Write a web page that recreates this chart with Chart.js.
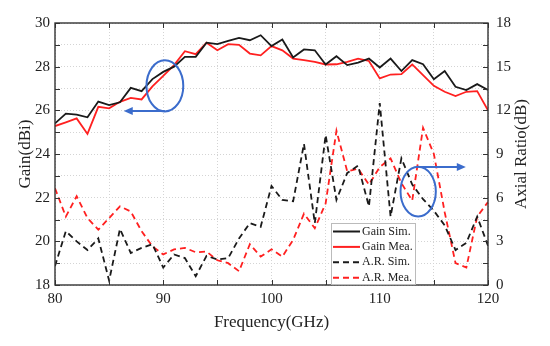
<!DOCTYPE html>
<html>
<head>
<meta charset="utf-8">
<script src="https://cdn.jsdelivr.net/npm/chart.js@4.4.0/dist/chart.umd.min.js"></script>
<style>
  html, body { margin: 0; padding: 0; background: #fff; }
</style>
</head>
<body>
<canvas id="myChart" width="550" height="346"></canvas>
<script>
// Frequency points (GHz)
let freq = [80, 81, 82, 83, 84, 85, 86, 87, 88, 89, 90, 91, 92, 93, 94, 95, 96, 97, 98, 99, 100,
            101, 102, 103, 104, 105, 106, 107, 108, 109, 110, 111, 112, 113, 114, 115, 116, 117, 118, 119, 120];

// Gain (dBi), left axis
let gainSim = [25.4, 25.85, 25.8, 25.68, 26.4, 26.24, 26.37, 27.03, 26.88, 27.43, 27.76,
               28.0, 28.45, 28.45, 29.1, 29.03, 29.18, 29.32, 29.21, 29.44, 28.94,
               29.24, 28.42, 28.79, 28.75, 28.1, 28.48, 28.07, 28.19, 28.37, 27.96,
               28.37, 27.8, 28.3, 28.11, 27.42, 27.8, 27.08, 26.93, 27.2, 26.93];
let gainMea = [25.28, 25.45, 25.63, 24.92, 26.16, 26.09, 26.39, 26.57, 26.5, 27.1, 27.58,
               28.07, 28.71, 28.57, 29.1, 28.75, 29.03, 29.0, 28.6, 28.52, 28.94,
               28.75, 28.37, 28.3, 28.22, 28.1, 28.11, 28.22, 28.37, 28.26, 27.46,
               27.64, 27.66, 28.1, 27.61, 27.12, 26.85, 26.65, 26.85, 26.88, 26.0];

// Axial ratio (dB), right axis
let arSim = [1.3, 3.7, 3.0, 2.4, 3.2, 0.3, 3.85, 2.2, 2.55, 2.8, 1.2,
             2.1, 1.85, 0.6, 2.0, 1.75, 1.85, 3.2, 4.25, 4.0, 6.8,
             5.85, 5.75, 9.7, 4.25, 10.3, 5.85, 7.7, 8.2, 5.4, 12.5,
             4.7, 8.7, 6.9, 5.9, 5.1, 4.1, 2.4, 2.9, 4.7, 2.7];
let arMea = [6.65, 4.7, 6.1, 4.6, 3.8, 4.6, 5.4, 5.05, 3.7, 2.65, 2.1,
             2.45, 2.55, 2.25, 2.3, 1.7, 1.5, 0.95, 2.8, 1.95, 2.45,
             1.95, 3.1, 4.9, 3.9, 5.6, 10.6, 7.8, 8.0, 6.9, 8.1,
             8.7, 7.0, 5.8, 10.8, 9.0, 5.0, 1.5, 1.2, 4.7, 5.7];

// Tick ranges
let xTicks = { min: 80, max: 120, step: 5, labelEvery: 10 };
let gainTicks = { min: 18, max: 30, step: 1, labelEvery: 2 };
let arTicks = { min: 0, max: 18, step: 1.5, labelEvery: 3 };

const SERIF = "'Liberation Serif', 'Times New Roman', serif";
const TEXT = '#222';
const BLUE = '#3b6ccc';

function pairs(xs, ys) {
    return xs.map((x, i) => ({ x: x, y: ys[i] }));
}

// legend entries drawn inside the plot
let legendItems = [
    { text: 'Gain Sim.', color: '#1a1a1a', dash: [] },
    { text: 'Gain Mea.', color: '#ff2020', dash: [] },
    { text: 'A.R. Sim.', color: '#1a1a1a', dash: [6, 4] },
    { text: 'A.R. Mea.', color: '#ff2020', dash: [6, 4] }
];

// blue ellipses + arrows, in data units
let marks = [
    { axis: 'y', cx: 90.15, cy: 27.12, rx: 1.7, ry: 1.17, ay: 25.97, ax: 86.35 },
    { axis: 'y2', cx: 113.55, cy: 6.42, rx: 1.63, ry: 1.71, ay: 8.1, ax: 117.95 }
];

const decorations = {
    id: 'decorations',
    afterDatasetsDraw(chart) {
        const { ctx, chartArea: a, scales } = chart;
        ctx.save();

        // inward tick marks
        ctx.strokeStyle = '#333';
        ctx.lineWidth = 1;
        ctx.setLineDash([]);
        ctx.beginPath();
        scales.x.ticks.forEach(t => {
            const px = Math.round(scales.x.getPixelForValue(t.value)) + 0.5;
            ctx.moveTo(px, a.bottom); ctx.lineTo(px, a.bottom - 5);
            ctx.moveTo(px, a.top); ctx.lineTo(px, a.top + 5);
        });
        scales.y.ticks.forEach(t => {
            const py = Math.round(scales.y.getPixelForValue(t.value)) + 0.5;
            ctx.moveTo(a.left, py); ctx.lineTo(a.left + 5, py);
        });
        scales.y2.ticks.forEach(t => {
            const py = Math.round(scales.y2.getPixelForValue(t.value)) + 0.5;
            ctx.moveTo(a.right, py); ctx.lineTo(a.right - 5, py);
        });
        ctx.stroke();

        // frame
        ctx.lineWidth = 1.4;
        ctx.strokeRect(a.left, a.top, a.right - a.left, a.bottom - a.top);

        // annotations
        ctx.strokeStyle = BLUE;
        ctx.fillStyle = BLUE;
        ctx.lineWidth = 2;
        marks.forEach(m => {
            const ys = scales[m.axis];
            const cx = scales.x.getPixelForValue(m.cx);
            const cy = ys.getPixelForValue(m.cy);
            const rx = Math.abs(scales.x.getPixelForValue(m.cx + m.rx) - cx);
            const ry = Math.abs(ys.getPixelForValue(m.cy + m.ry) - cy);
            ctx.beginPath();
            ctx.ellipse(cx, cy, rx, ry, 0, 0, Math.PI * 2);
            ctx.stroke();
            const y0 = ys.getPixelForValue(m.ay);
            const x1 = scales.x.getPixelForValue(m.ax);
            const dir = x1 < cx ? -1 : 1;
            ctx.beginPath();
            ctx.moveTo(cx, y0); ctx.lineTo(x1 - dir * 6, y0);
            ctx.stroke();
            ctx.beginPath();
            ctx.moveTo(x1, y0);
            ctx.lineTo(x1 - dir * 9, y0 - 4);
            ctx.lineTo(x1 - dir * 9, y0 + 4);
            ctx.closePath();
            ctx.fill();
        });

        // legend box
        const bx = a.right - 157, by = a.bottom - 62, bw = 84, bh = 61;
        ctx.fillStyle = '#fff';
        ctx.fillRect(bx, by, bw, bh);
        ctx.strokeStyle = '#bbb';
        ctx.lineWidth = 1;
        ctx.strokeRect(bx + 0.5, by + 0.5, bw, bh);
        ctx.font = '12px ' + SERIF;
        ctx.textBaseline = 'middle';
        legendItems.forEach((it, i) => {
            const ly = by + 8.5 + i * 15.4;
            ctx.strokeStyle = it.color;
            ctx.lineWidth = 2;
            ctx.setLineDash(it.dash);
            ctx.beginPath();
            ctx.moveTo(bx + 2, ly); ctx.lineTo(bx + 29, ly);
            ctx.stroke();
            ctx.setLineDash([]);
            ctx.fillStyle = TEXT;
            ctx.fillText(it.text, bx + 31, ly);
        });

        // right axis title, reading bottom to top
        ctx.translate(522, (a.top + a.bottom) / 2);
        ctx.rotate(-Math.PI / 2);
        ctx.font = '17px ' + SERIF;
        ctx.textAlign = 'center';
        ctx.fillStyle = TEXT;
        ctx.fillText('Axial Ratio(dB)', 0, 0);
        ctx.restore();
    }
};

function tickLabel(every) {
    return v => (Math.abs(v / every - Math.round(v / every)) < 1e-6 ? v : '');
}

const gridOpts = { color: '#d4d4d4', lineWidth: 1, drawTicks: false };
const dotted = { display: false, dash: [1, 2] };

let ctx = document.getElementById('myChart').getContext('2d');
let chart = new Chart(ctx, {
    type: 'line',
    data: {
        datasets: [
            { label: 'Gain Sim.', data: pairs(freq, gainSim), yAxisID: 'y', borderColor: '#1a1a1a', borderWidth: 1.8 },
            { label: 'Gain Mea.', data: pairs(freq, gainMea), yAxisID: 'y', borderColor: '#ff2020', borderWidth: 1.8 },
            { label: 'A.R. Sim.', data: pairs(freq, arSim), yAxisID: 'y2', borderColor: '#1a1a1a', borderWidth: 1.8, borderDash: [6, 4] },
            { label: 'A.R. Mea.', data: pairs(freq, arMea), yAxisID: 'y2', borderColor: '#ff2020', borderWidth: 1.8, borderDash: [6, 4] }
        ]
    },
    options: {
        responsive: false,
        animation: false,
        elements: { point: { radius: 0 }, line: { tension: 0 } },
        layout: { padding: { top: 23, left: 0, right: 0, bottom: 0 } },
        plugins: { legend: { display: false }, tooltip: { enabled: false } },
        scales: {
            x: {
                type: 'linear', min: xTicks.min, max: xTicks.max,
                ticks: { stepSize: xTicks.step, callback: tickLabel(xTicks.labelEvery), color: TEXT,
                         font: { family: SERIF, size: 15 }, padding: 5, maxRotation: 0, autoSkip: false },
                grid: gridOpts, border: dotted,
                title: { display: true, text: 'Frequency(GHz)', color: TEXT, font: { family: SERIF, size: 17 },
                         padding: { top: 2, bottom: 13 } },
                afterFit: s => { s.height = 61; }
            },
            y: {
                position: 'left', min: gainTicks.min, max: gainTicks.max,
                ticks: { stepSize: gainTicks.step, callback: tickLabel(gainTicks.labelEvery), color: TEXT,
                         font: { family: SERIF, size: 15 }, padding: 5 },
                grid: gridOpts, border: dotted,
                title: { display: true, text: 'Gain(dBi)', color: TEXT, font: { family: SERIF, size: 17 },
                         padding: { top: 15, bottom: 0 } },
                afterFit: s => { s.width = 55; }
            },
            y2: {
                position: 'right', min: arTicks.min, max: arTicks.max,
                ticks: { stepSize: arTicks.step, callback: tickLabel(arTicks.labelEvery), color: TEXT,
                         font: { family: SERIF, size: 15 }, padding: 8 },
                grid: { display: false, drawTicks: false }, border: { display: false },
                afterFit: s => { s.width = 62; }
            }
        }
    },
    plugins: [decorations]
});
</script>
</body>
</html>
